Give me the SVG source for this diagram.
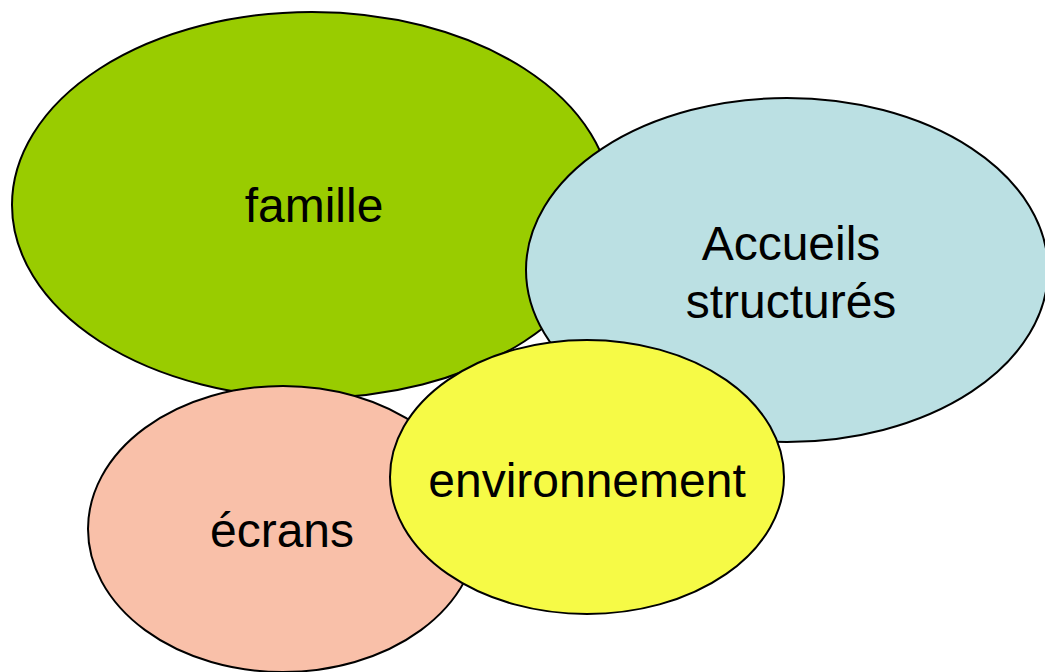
<svg xmlns="http://www.w3.org/2000/svg" width="1045" height="672" viewBox="0 0 1045 672">
<style>
.e{stroke:#000;stroke-width:2}
.t{font-family:"Liberation Sans",Arial,sans-serif;font-size:48px;fill:#000;text-anchor:middle}
</style>
<rect width="1045" height="672" fill="#fff"/>
<g id="famille"><ellipse class="e" cx="312" cy="205" rx="300" ry="193" fill="#99CC00"/><text class="t" x="314" y="222">famille</text></g>
<g id="accueils"><ellipse class="e" cx="787" cy="270" rx="261" ry="172" fill="#BBE0E3"/><text class="t" x="791" y="260">Accueils</text><text class="t" x="791" y="318">structurés</text></g>
<g id="ecrans"><ellipse class="e" cx="283" cy="529" rx="195" ry="143" fill="#F9C0A9"/><text class="t" x="282" y="547">écrans</text></g>
<g id="environnement"><ellipse class="e" cx="587" cy="477" rx="197" ry="137" fill="#F6FA46"/><text class="t" x="587" y="497">environnement</text></g>
<g id="connectors"/>
</svg>
